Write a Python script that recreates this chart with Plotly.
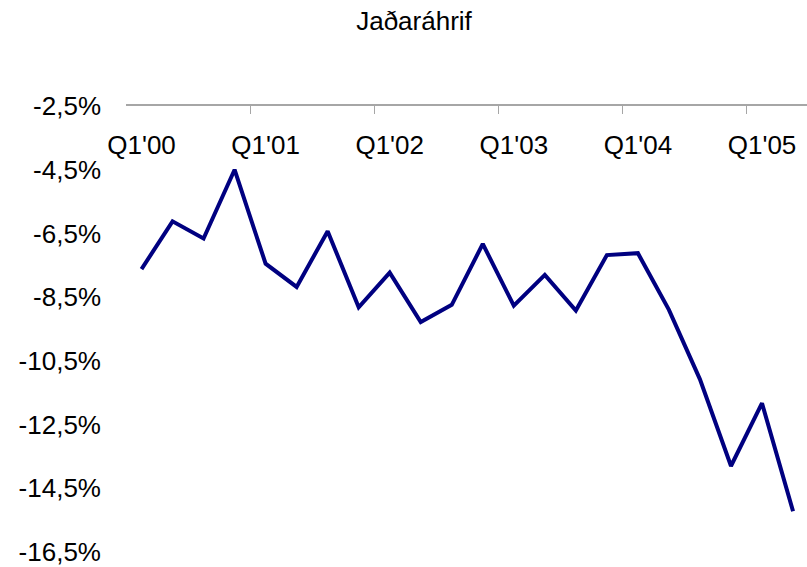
import plotly.graph_objects as go

# Quarterly series, Q1 2000 - Q2 2005
quarters = [
    "Q1'00", "Q2'00", "Q3'00", "Q4'00",
    "Q1'01", "Q2'01", "Q3'01", "Q4'01",
    "Q1'02", "Q2'02", "Q3'02", "Q4'02",
    "Q1'03", "Q2'03", "Q3'03", "Q4'03",
    "Q1'04", "Q2'04", "Q3'04", "Q4'04",
    "Q1'05", "Q2'05",
]
jadarahrif = [
    -7.62, -6.12, -6.66, -4.50,
    -7.45, -8.18, -6.43, -8.82,
    -7.73, -9.28, -8.74, -6.83,
    -8.77, -7.80, -8.92, -7.18,
    -7.12, -8.90, -11.08, -13.80,
    -11.83, -15.22,
]
y_ticks = [-2.5, -4.5, -6.5, -8.5, -10.5, -12.5, -14.5, -16.5]
y_tick_text = [f"{v:.1f}".replace(".", ",") + "%" for v in y_ticks]

FONT = "Liberation Sans, Arial, sans-serif"
FONT_SIZE = 26

fig = go.Figure(
    go.Scatter(
        x=quarters,
        y=jadarahrif,
        mode="lines",
        line=dict(color="#000080", width=4),
        hoverinfo="x+y",
    )
)

fig.update_layout(
    width=807,
    height=567,
    margin=dict(l=126, r=0, t=106, b=12),
    paper_bgcolor="white",
    plot_bgcolor="white",
    showlegend=False,
    font=dict(family=FONT, size=FONT_SIZE, color="black"),
    title=dict(
        text="Jaðaráhrif",
        x=414 / 807,
        xanchor="center",
        xref="container",
        y=1 - 21 / 567,
        yanchor="middle",
        yref="container",
        font=dict(family=FONT, size=FONT_SIZE, color="black"),
    ),
)

fig.update_xaxes(
    type="category",
    categoryorder="array",
    categoryarray=quarters,
    side="top",
    range=[-0.5, 21.45],
    showline=True,
    linecolor="#a6a6a6",
    linewidth=1.5,
    showgrid=False,
    zeroline=False,
    tickmode="linear",
    tick0=0,
    dtick=4,
    tickangle=0,
    ticks="inside",
    ticklen=8,
    tickwidth=1,
    tickcolor="#a6a6a6",
    tickson="boundaries",
    ticklabelposition="inside",
    ticklabeloverflow="allow",
    ticklabelstandoff=24,
    tickfont=dict(family=FONT, size=FONT_SIZE, color="black"),
)

fig.update_yaxes(
    range=[-16.5, -2.5],
    tickmode="array",
    tickvals=y_ticks,
    ticktext=y_tick_text,
    showline=False,
    showgrid=False,
    zeroline=False,
    ticks="",
    ticklabeloverflow="allow",
    ticklabelstandoff=24,
    tickfont=dict(family=FONT, size=FONT_SIZE, color="black"),
)

fig.write_html("out.html")
